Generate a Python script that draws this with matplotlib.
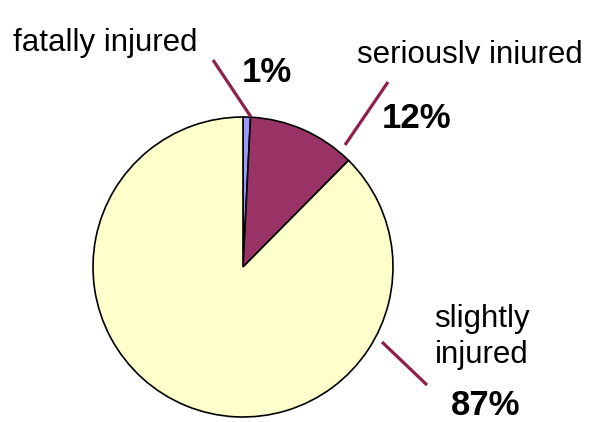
import matplotlib
matplotlib.use('Agg')
import matplotlib.pyplot as plt
from matplotlib.transforms import Bbox, TransformedBbox

# share of casualties by severity (percent)
categories = ['fatally injured', 'seriously injured', 'slightly\ninjured']
shares = [0.8, 11.6, 87.4]
pct_labels = ['1%', '12%', '87%']
colors = ['#9999FF', '#993366', '#FFFFCC']

plt.rcParams['font.family'] = ['Liberation Sans', 'DejaVu Sans']

W, H = 596, 422
fig = plt.figure(figsize=(W / 100, H / 100), dpi=100)
ax = fig.add_axes([0, 0, 1, 1])

# pixel helper (y from top)
def py(y):
    return H - y

ax.pie(shares, colors=colors, startangle=90, counterclock=False,
       center=(243, py(267)), radius=150, frame=True,
       wedgeprops=dict(edgecolor='black', linewidth=1.2))
ax.set_xlim(0, W)
ax.set_ylim(0, H)
ax.set_aspect('equal')
ax.axis('off')

# leader lines
line_col = '#8E1F4B'
leaders = [((213, 60), (251, 117)),
           ((388, 82), (345, 145)),
           ((382, 342), (427, 385))]
for (x0, y0), (x1, y1) in leaders:
    ax.plot([x0, x1], [py(y0), py(y1)], color=line_col, lw=2.3,
            solid_capstyle='butt')

# category labels
ax.text(105.5, py(51), categories[0], ha='center', va='baseline', fontsize=22.5)
t = ax.text(469.5, py(63), categories[1], ha='center', va='baseline', fontsize=22.5)
t.set_clip_box(TransformedBbox(Bbox.from_extents(300, py(63.5), W, H), ax.transData))
t.set_clip_on(True)
ax.text(482, py(337), categories[2], ha='center', va='center', fontsize=22.5,
        linespacing=1.3)

# percentage labels
ax.text(267, py(82), pct_labels[0], ha='center', va='baseline', fontsize=25, fontweight='bold')
ax.text(417, py(128), pct_labels[1], ha='center', va='baseline', fontsize=25, fontweight='bold')
ax.text(486, py(415), pct_labels[2], ha='center', va='baseline', fontsize=25, fontweight='bold')

fig.savefig('out.png', dpi=100)
